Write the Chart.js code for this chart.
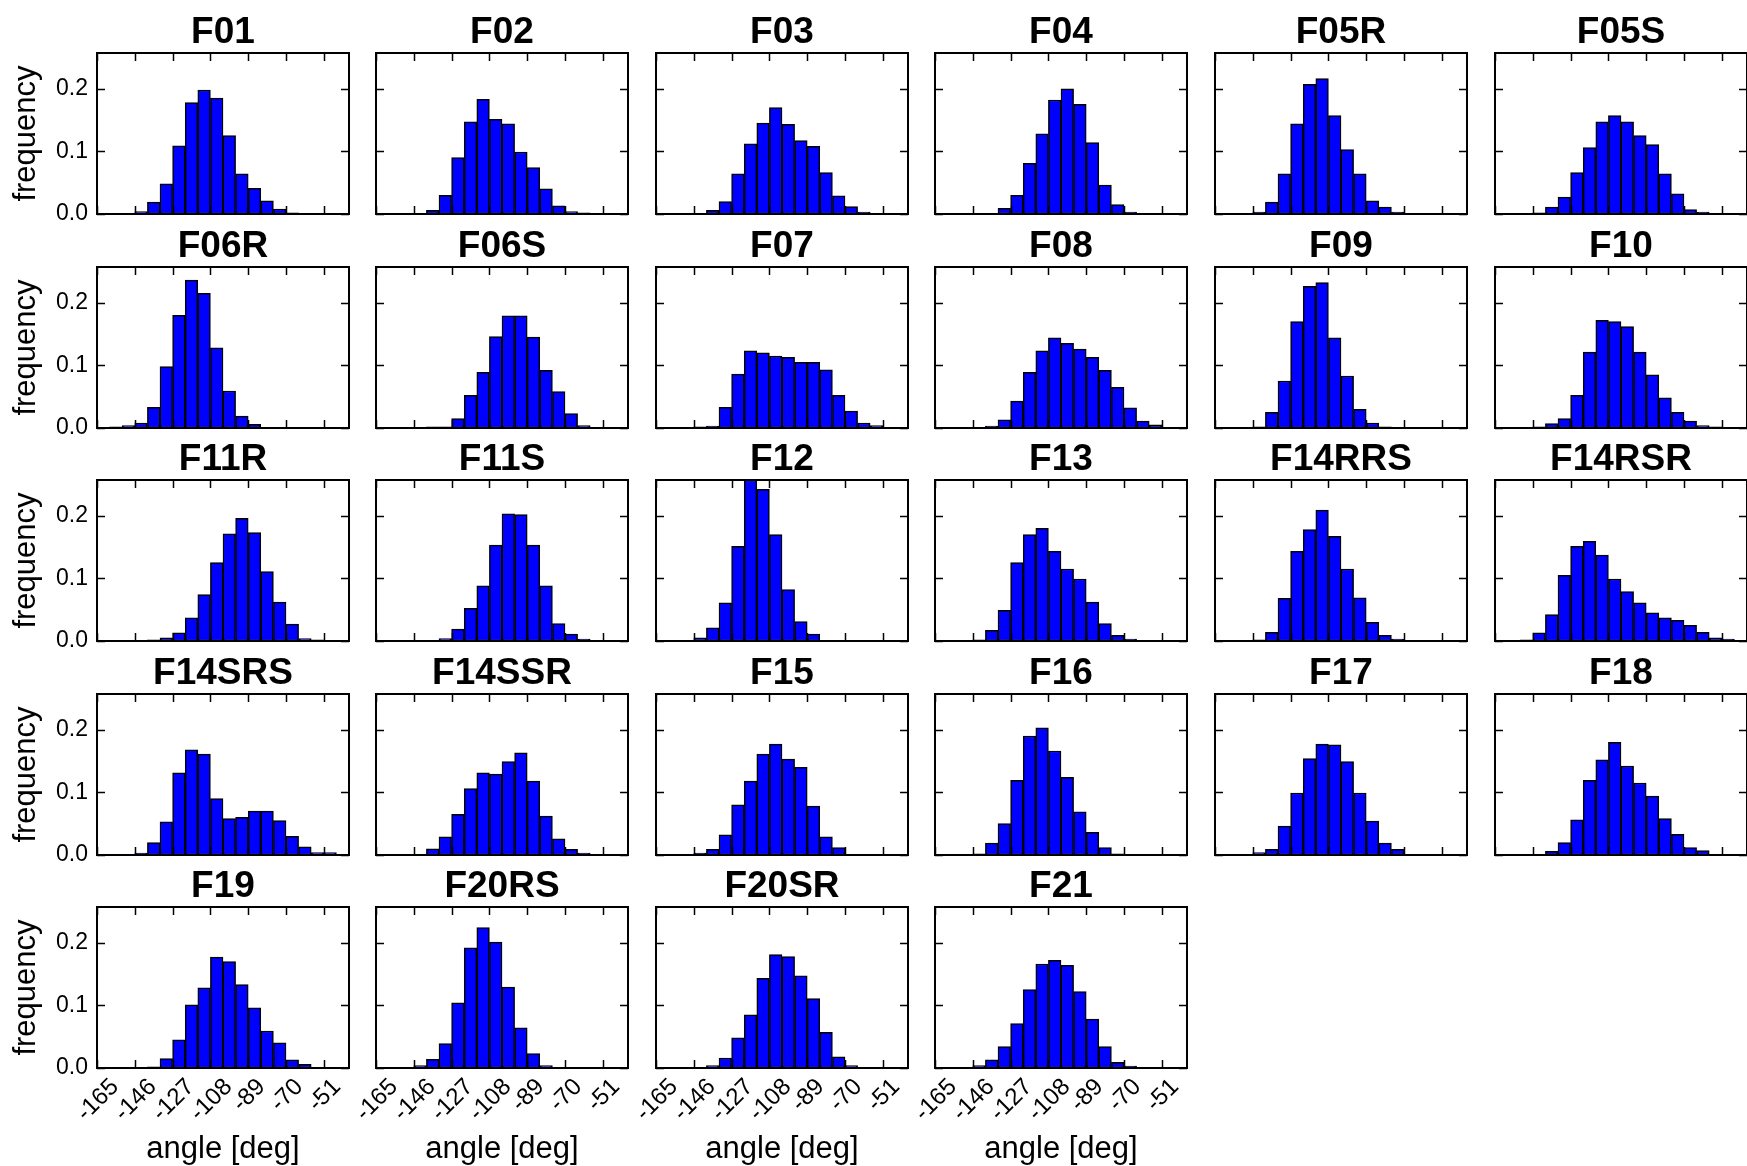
<!DOCTYPE html>
<html>
<head>
<meta charset="utf-8">
<title>angle histograms</title>
<script src="https://cdn.jsdelivr.net/npm/chart.js@4.4.1/dist/chart.umd.min.js"></script>
<style>
  html, body { margin: 0; padding: 0; background: #fff; overflow: hidden; }
  #grid { position: relative; width: 1747px; height: 1166px; }
  #grid canvas { position: absolute; }
</style>
</head>
<body>
<div id="grid"></div>
<script>
// 20 equal angle bins between X_MIN and X_MAX (deg)
const X_MIN = -165;
const X_MAX = -38;
const N_BINS = 20;
const X_TICK_LABELS = ["-165", "-146", "-127", "-108", "-89", "-70", "-51"];
const Y_TICKS = [0, 0.1, 0.2];
const Y_TICK_LABELS = ["0.0", "0.1", "0.2"];

// frequency per bin, one array per case
const F01 = [0, 0, 0, 0.004, 0.019, 0.048, 0.109, 0.178, 0.198, 0.185, 0.125, 0.064, 0.041, 0.021, 0.008, 0.002, 0.001, 0.001, 0, 0];
const F02 = [0, 0, 0, 0, 0.006, 0.030, 0.090, 0.147, 0.183, 0.151, 0.144, 0.099, 0.074, 0.040, 0.013, 0.004, 0.002, 0, 0, 0];
const F03 = [0, 0, 0, 0, 0.006, 0.020, 0.064, 0.112, 0.145, 0.170, 0.143, 0.117, 0.108, 0.066, 0.029, 0.012, 0.003, 0, 0, 0];
const F04 = [0, 0, 0, 0, 0.001, 0.009, 0.030, 0.081, 0.128, 0.182, 0.200, 0.175, 0.114, 0.046, 0.015, 0.003, 0, 0, 0, 0];
const F05R = [0, 0, 0, 0.003, 0.019, 0.064, 0.144, 0.207, 0.216, 0.157, 0.103, 0.064, 0.021, 0.011, 0.003, 0, 0, 0, 0, 0];
const F05S = [0, 0, 0, 0.002, 0.011, 0.027, 0.066, 0.106, 0.147, 0.157, 0.147, 0.125, 0.111, 0.064, 0.032, 0.007, 0.003, 0.001, 0, 0];
const F06R = [0, 0.002, 0.004, 0.008, 0.033, 0.098, 0.180, 0.236, 0.215, 0.128, 0.059, 0.019, 0.006, 0, 0, 0, 0, 0, 0, 0];
const F06S = [0, 0, 0, 0, 0.002, 0.002, 0.015, 0.052, 0.089, 0.146, 0.179, 0.179, 0.145, 0.092, 0.058, 0.023, 0.004, 0, 0, 0];
const F07 = [0, 0, 0, 0.002, 0.003, 0.033, 0.086, 0.123, 0.120, 0.115, 0.113, 0.105, 0.105, 0.093, 0.052, 0.027, 0.008, 0.004, 0, 0];
const F08 = [0, 0, 0, 0, 0.003, 0.013, 0.043, 0.089, 0.123, 0.144, 0.135, 0.126, 0.113, 0.092, 0.065, 0.032, 0.011, 0.005, 0, 0];
const F09 = [0, 0, 0, 0.002, 0.025, 0.075, 0.170, 0.226, 0.232, 0.144, 0.083, 0.030, 0.008, 0.002, 0, 0, 0, 0, 0, 0];
const F10 = [0, 0, 0, 0.002, 0.007, 0.015, 0.052, 0.121, 0.172, 0.170, 0.162, 0.121, 0.085, 0.048, 0.025, 0.011, 0.004, 0.002, 0, 0];
const F11R = [0, 0, 0, 0, 0.002, 0.005, 0.013, 0.037, 0.074, 0.125, 0.171, 0.196, 0.173, 0.111, 0.062, 0.027, 0.004, 0.002, 0, 0];
const F11S = [0, 0, 0, 0, 0, 0.004, 0.019, 0.052, 0.088, 0.153, 0.203, 0.202, 0.153, 0.088, 0.028, 0.011, 0.003, 0, 0, 0];
const F12 = [0, 0, 0, 0.005, 0.021, 0.061, 0.151, 0.257, 0.242, 0.170, 0.082, 0.031, 0.011, 0, 0, 0, 0, 0, 0, 0];
const F13 = [0, 0, 0, 0.002, 0.017, 0.049, 0.125, 0.170, 0.180, 0.143, 0.115, 0.099, 0.062, 0.028, 0.009, 0.003, 0, 0, 0, 0];
const F14RRS = [0, 0, 0, 0.002, 0.014, 0.068, 0.143, 0.178, 0.209, 0.167, 0.115, 0.069, 0.030, 0.009, 0.003, 0, 0, 0, 0, 0];
const F14RSR = [0, 0, 0.002, 0.013, 0.042, 0.105, 0.151, 0.159, 0.137, 0.099, 0.079, 0.061, 0.045, 0.037, 0.033, 0.025, 0.014, 0.005, 0.003, 0];
const F14SRS = [0, 0, 0, 0.003, 0.020, 0.053, 0.131, 0.168, 0.161, 0.090, 0.058, 0.060, 0.070, 0.070, 0.055, 0.030, 0.013, 0.004, 0.004, 0];
const F14SSR = [0, 0, 0, 0, 0.010, 0.029, 0.065, 0.106, 0.131, 0.129, 0.149, 0.163, 0.118, 0.062, 0.026, 0.009, 0.003, 0, 0, 0];
const F15 = [0, 0, 0, 0.003, 0.009, 0.032, 0.080, 0.118, 0.161, 0.177, 0.153, 0.140, 0.078, 0.029, 0.012, 0, 0, 0, 0, 0];
const F16 = [0, 0, 0, 0.002, 0.019, 0.050, 0.119, 0.190, 0.203, 0.166, 0.124, 0.069, 0.036, 0.012, 0.002, 0, 0, 0, 0, 0];
const F17 = [0, 0, 0, 0.004, 0.009, 0.046, 0.099, 0.154, 0.177, 0.176, 0.149, 0.099, 0.054, 0.019, 0.009, 0, 0, 0, 0, 0];
const F18 = [0, 0, 0, 0, 0.006, 0.020, 0.056, 0.119, 0.152, 0.180, 0.142, 0.115, 0.094, 0.058, 0.033, 0.012, 0.007, 0, 0, 0];
const F19 = [0, 0, 0, 0, 0.002, 0.015, 0.045, 0.101, 0.128, 0.177, 0.170, 0.133, 0.096, 0.059, 0.040, 0.013, 0.006, 0, 0, 0];
const F20RS = [0, 0, 0, 0.004, 0.014, 0.039, 0.104, 0.192, 0.224, 0.201, 0.129, 0.064, 0.023, 0.004, 0, 0, 0, 0, 0, 0];
const F20SR = [0, 0, 0, 0, 0.004, 0.016, 0.048, 0.085, 0.143, 0.181, 0.178, 0.147, 0.111, 0.057, 0.018, 0.004, 0, 0, 0, 0];
const F21 = [0, 0, 0, 0.004, 0.013, 0.034, 0.071, 0.125, 0.166, 0.172, 0.164, 0.122, 0.078, 0.034, 0.009, 0.003, 0, 0, 0, 0];

const PANELS = [
  ["F01", F01], ["F02", F02], ["F03", F03], ["F04", F04], ["F05R", F05R], ["F05S", F05S],
  ["F06R", F06R], ["F06S", F06S], ["F07", F07], ["F08", F08], ["F09", F09], ["F10", F10],
  ["F11R", F11R], ["F11S", F11S], ["F12", F12], ["F13", F13], ["F14RRS", F14RRS], ["F14RSR", F14RSR],
  ["F14SRS", F14SRS], ["F14SSR", F14SSR], ["F15", F15], ["F16", F16], ["F17", F17], ["F18", F18],
  ["F19", F19], ["F20RS", F20RS], ["F20SR", F20SR], ["F21", F21]
];

// grid geometry (plot areas)
const COL_X = [97, 376, 656, 935, 1215, 1495];
const ROW_Y = [53, 267, 480, 694, 907];
const AX_W = 252;
const AX_H = 161;
const PAD = { left: 97, top: 53, right: 14, bottom: 112 };
const TICK_LEN = 8;
const FONT = '"Liberation Sans", Arial, sans-serif';
const XTICK_PX = 24;

const BIN_W = (X_MAX - X_MIN) / N_BINS;
const BIN_EDGES = Array.from({ length: N_BINS + 1 }, (_, i) => X_MIN + i * BIN_W);
const X_TICKS = BIN_EDGES.filter((_, i) => i % 3 === 0 && i < N_BINS);
const Y_MAX = Math.max(...PANELS.flatMap(p => p[1]));

const grid = document.getElementById("grid");

function makePanel(name, values, idx) {
  const row = Math.floor(idx / 6);
  const col = idx % 6;
  const showY = col === 0;
  const showX = row === 4; // bottom row carries the angle axis

  const canvas = document.createElement("canvas");
  canvas.width = PAD.left + AX_W + PAD.right;
  canvas.height = PAD.top + AX_H + PAD.bottom;
  canvas.style.left = (COL_X[col] - PAD.left) + "px";
  canvas.style.top = (ROW_Y[row] - PAD.top) + "px";
  grid.appendChild(canvas);

  const decor = {
    id: "panelDecor",
    afterDatasetsDraw(chart) {
      const { ctx, chartArea: a, scales: { x, y } } = chart;
      ctx.save();

      // inward ticks on all four sides
      ctx.strokeStyle = "#000";
      ctx.lineWidth = 1.5;
      ctx.beginPath();
      X_TICKS.forEach(v => {
        const px = Math.round(x.getPixelForValue(v)) + 0.5;
        ctx.moveTo(px, a.bottom); ctx.lineTo(px, a.bottom - TICK_LEN);
        ctx.moveTo(px, a.top); ctx.lineTo(px, a.top + TICK_LEN);
      });
      Y_TICKS.forEach(v => {
        const py = Math.round(y.getPixelForValue(v)) + 0.5;
        ctx.moveTo(a.left, py); ctx.lineTo(a.left + TICK_LEN, py);
        ctx.moveTo(a.right, py); ctx.lineTo(a.right - TICK_LEN, py);
      });
      ctx.stroke();

      // frame
      ctx.lineWidth = 2;
      ctx.strokeRect(a.left, a.top, a.right - a.left, a.bottom - a.top);

      ctx.fillStyle = "#000";
      const cx = (a.left + a.right) / 2;

      // title
      ctx.font = "bold 37px " + FONT;
      ctx.textAlign = "center";
      ctx.textBaseline = "alphabetic";
      ctx.fillText(name, cx, a.top - 10);

      if (showY) {
        ctx.font = "23px " + FONT;
        ctx.textAlign = "right";
        ctx.textBaseline = "middle";
        Y_TICKS.forEach((v, i) => {
          ctx.fillText(Y_TICK_LABELS[i], a.left - 9, y.getPixelForValue(v));
        });
        ctx.save();
        ctx.font = "31px " + FONT;
        ctx.translate(a.left - 62, (a.top + a.bottom) / 2);
        ctx.rotate(-Math.PI / 2);
        ctx.textAlign = "center";
        ctx.textBaseline = "alphabetic";
        ctx.fillText("frequency", 0, 0);
        ctx.restore();
      }

      if (showX) {
        // 45 degree labels centred under each tick
        ctx.font = XTICK_PX + "px " + FONT;
        X_TICKS.forEach((v, i) => {
          const s = X_TICK_LABELS[i];
          const w = ctx.measureText(s).width;
          const half = (w + XTICK_PX * 0.72) / (2 * Math.SQRT2);
          ctx.save();
          ctx.translate(x.getPixelForValue(v) + 1, a.bottom + 9 + half);
          ctx.rotate(-Math.PI / 4);
          ctx.textAlign = "center";
          ctx.textBaseline = "middle";
          ctx.fillText(s, 0, 0);
          ctx.restore();
        });
        ctx.font = "31px " + FONT;
        ctx.textAlign = "center";
        ctx.textBaseline = "alphabetic";
        ctx.fillText("angle [deg]", cx, a.bottom + 90);
      }

      ctx.restore();
    }
  };

  new Chart(canvas, {
    type: "bar",
    data: {
      datasets: [{
        data: values.map((v, i) => ({ x: X_MIN + (i + 0.5) * BIN_W, y: v })),
        backgroundColor: "#0000ff",
        borderColor: "#000000",
        borderWidth: 1.5,
        borderSkipped: false,
        barPercentage: 1,
        categoryPercentage: 1
      }]
    },
    options: {
      responsive: false,
      animation: false,
      devicePixelRatio: 1,
      events: [],
      layout: { padding: PAD },
      plugins: { legend: { display: false }, title: { display: false }, tooltip: { enabled: false } },
      scales: {
        x: {
          type: "linear",
          display: false,
          offset: false,
          min: X_MIN,
          max: X_MAX,
          afterBuildTicks: s => { s.ticks = BIN_EDGES.map(v => ({ value: v })); }
        },
        y: {
          display: false,
          min: 0,
          max: Y_MAX
        }
      }
    },
    plugins: [decor]
  });
}

PANELS.forEach((p, i) => makePanel(p[0], p[1], i));
</script>
</body>
</html>
